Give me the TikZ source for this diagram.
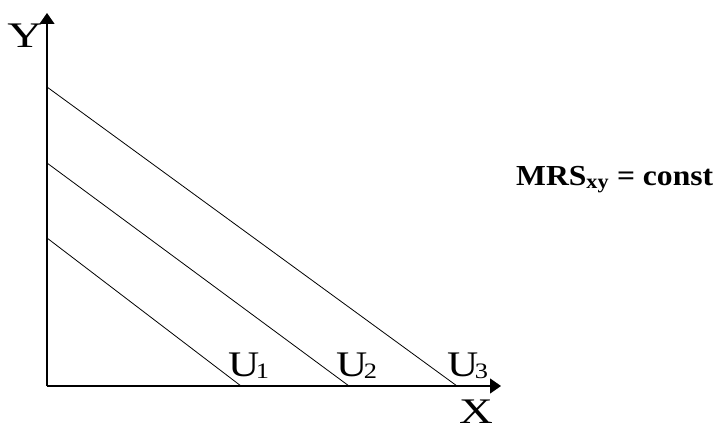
\documentclass[tikz,border=0pt]{standalone}
\usepackage{fontspec}
\setmainfont{Liberation Serif}
\usetikzlibrary{arrows.meta}
\tikzset{
  axis/.style={line width=1.2pt,-{Triangle[length=11pt,width=15pt]}},
  budget/.style={line width=0.8pt},
  biglabel/.style={font=\fontsize{36}{36}\selectfont, inner sep=0pt},
  ulabel/.style={font=\fontsize{36}{36}\selectfont, inner sep=0pt, anchor=base west},
}
\newcommand{\Ulab}[1]{\scalebox{1.2}[1]{U\kern-3pt\raisebox{-2pt}{\fontsize{22}{22}\selectfont #1}}}
\begin{document}
\begin{tikzpicture}[x=1pt,y=-1pt]
\useasboundingbox (0,0) rectangle (717,425);
\coordinate (O) at (47,386);
\coordinate (Ytip) at (47,13);
\coordinate (Xtip) at (501,386);
\draw[axis] (O) -- (Ytip);
\draw[axis] (O) -- (Xtip);
\coordinate (a1) at (47,87);
\coordinate (b1) at (457,386);
\coordinate (a2) at (47,163);
\coordinate (b2) at (349,386);
\coordinate (a3) at (47,238);
\coordinate (b3) at (241,386);
\draw[budget] (a1) -- (b1);
\draw[budget] (a2) -- (b2);
\draw[budget] (a3) -- (b3);
\node[biglabel] (ylab) at (25,36) {\scalebox{1.35}[1]{Y}};
\node[biglabel] (xlab) at (476,412) {\scalebox{1.3}[1]{X}};
\node[ulabel] (u1) at (228,376) {\Ulab{1}};
\node[ulabel] (u2) at (336,376) {\Ulab{2}};
\node[ulabel] (u3) at (447,376) {\Ulab{3}};
\node[inner sep=0pt, anchor=base west, font=\fontsize{29}{29}\selectfont\bfseries] (mrs) at (516,185) {\scalebox{1.09}[1]{MRS\textsubscript{xy} = const}};
\end{tikzpicture}
\end{document}
